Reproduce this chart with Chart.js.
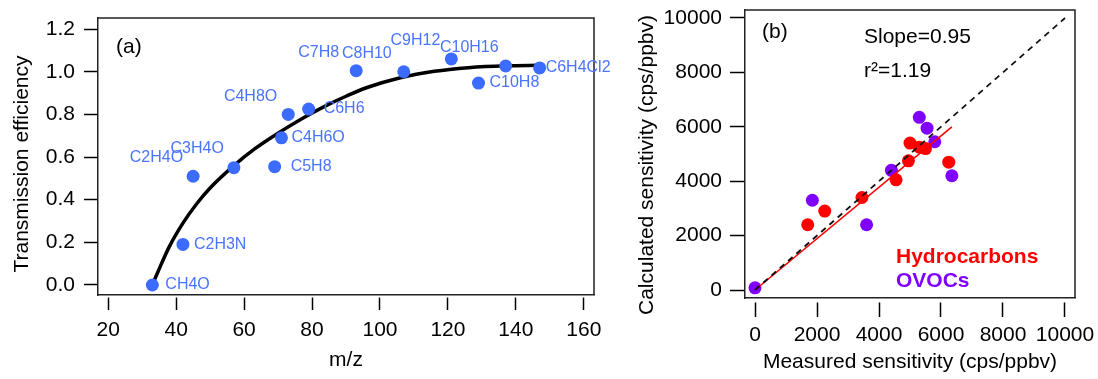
<!DOCTYPE html>
<html><head><meta charset="utf-8">
<script src="https://cdn.jsdelivr.net/npm/chart.js@4.4.1/dist/chart.umd.min.js"></script>
<style>
html,body{margin:0;padding:0;background:#fff;overflow:hidden;width:1098px;height:379px}
#wa{position:absolute;left:0;top:0;width:640px;height:379px}
#wb{position:absolute;left:620px;top:0;width:478px;height:379px}
</style></head><body>
<div id="wa"><canvas id="ca" width="640" height="379"></canvas></div>
<div id="wb"><canvas id="cb" width="478" height="379"></canvas></div>
<script>
// ---------- Panel (a) data ----------
const compounds = ['CH4O','C2H3N','C2H4O','C3H4O','C5H8','C4H6O','C4H8O','C6H6','C7H8','C8H10','C9H12','C10H16','C10H8','C6H4Cl2'];
const mz = [33,42,45,57,69,71,73,79,93,107,121,137,129,147];
const transmission = [0.00,0.19,0.51,0.55,0.555,0.69,0.80,0.825,1.005,1.00,1.06,1.027,0.947,1.018];
const fitMz  = [33,35,38,42,46,50,57,63,70,77,84,90,96,106,116,126,137,147];
const fitEff = [0,0.075,0.18,0.29,0.38,0.455,0.56,0.637,0.712,0.78,0.84,0.885,0.925,0.972,1.002,1.019,1.028,1.03];
const xTicksA = [20,40,60,80,100,120,140,160];
const yTicksA = [0,0.2,0.4,0.6,0.8,1.0,1.2];

// ---------- Panel (b) data ----------
const hcMeasured   = [1700,2250,3450,4550,4950,5000,5300,5500,6250];
const hcCalculated = [2400,2900,3400,4050,4750,5400,5250,5200,4700];
const ovocMeasured   = [0,1850,3600,4400,5300,5550,5800,6350];
const ovocCalculated = [80,3300,2400,4400,6350,5950,5450,4200];
const fitLineX = [0,6350];
const fitLineY = [0,6000];
const oneToOne = [0,10000];
const xTicksB = [0,2000,4000,6000,8000,10000];
const yTicksB = [0,2000,4000,6000,8000,10000];

// ---------- styling ----------
const FAM = "'Liberation Sans', Arial, Helvetica, sans-serif";
Chart.defaults.font.family = FAM;
const BLUE = '#3c6cff', LABEL_BLUE = '#4a74ff', RED = '#ff0000', PURPLE = '#7f00ff';
const tickFont = {family: FAM, size: 21};

// label placement for panel (a): [align, dx, dy] in pixels from the point
const labelPlace = {
  CH4O:['left',13,0], C2H3N:['left',11,0], C2H4O:['right',-10,-19], C3H4O:['right',-10,-19],
  C5H8:['left',16,0], C4H6O:['left',10,0], C4H8O:['right',-11,-18], C6H6:['left',15,0],
  C7H8:['right',-17,-18], C8H10:['right',-12,-18], C9H12:['right',-11,-18], C10H16:['right',-7,-18],
  C10H8:['left',11,0], C6H4Cl2:['left',6,0]
};

const framePlugin = {
  id: 'frame',
  afterDatasetsDraw(chart) {
    const {ctx, chartArea: a} = chart;
    ctx.save();
    ctx.strokeStyle = '#222';
    ctx.lineWidth = 1.5;
    ctx.beginPath();
    ctx.moveTo(a.left, a.top); ctx.lineTo(a.right, a.top); ctx.lineTo(a.right, a.bottom);
    ctx.stroke();
    ctx.restore();
  }
};

function textPlugin(items, yTitle) {
  return {
    id: 'texts',
    afterDraw(chart) {
      const {ctx, chartArea: a} = chart;
      ctx.save();
      ctx.textBaseline = 'middle';
      ctx.textAlign = 'left';
      for (const t of items) {
        ctx.font = t.font;
        ctx.fillStyle = t.color;
        ctx.fillText(t.text, a.left + t.dx, a.top + t.dy);
      }
      // rotated y-axis title
      ctx.translate(yTitle.cx, yTitle.cy);
      ctx.rotate(-Math.PI / 2);
      ctx.textAlign = 'center';
      ctx.font = '21px ' + FAM;
      ctx.fillStyle = '#000';
      ctx.fillText(yTitle.text, 0, 0);
      ctx.restore();
    }
  };
}

const pointLabelPlugin = {
  id: 'pointLabels',
  afterDatasetsDraw(chart) {
    const {ctx} = chart;
    const meta = chart.getDatasetMeta(0);
    ctx.save();
    ctx.font = '16px ' + FAM;
    ctx.fillStyle = LABEL_BLUE;
    ctx.textBaseline = 'middle';
    meta.data.forEach((el, i) => {
      const name = compounds[i];
      const p = labelPlace[name];
      ctx.textAlign = p[0];
      ctx.fillText(name, el.x + p[1], el.y + p[2]);
    });
    ctx.restore();
  }
};

function axisCommon(tickLen, dash) {
  const g = {display: true, drawOnChartArea: false, drawTicks: true, tickLength: tickLen, tickWidth: 1.5, tickColor: '#000'};
  if (dash) g.tickBorderDash = dash;
  return g;
}
function fixSize(prop, val) {
  return s => { s[prop] = val; s.paddingTop = 0; s.paddingBottom = 0; s.paddingLeft = 0; s.paddingRight = 0; };
}

// ---------- Chart (a) ----------
new Chart(document.getElementById('ca'), {
  type: 'scatter',
  data: {
    datasets: [
      {
        label: 'Transmission efficiency',
        data: mz.map((x, i) => ({x, y: transmission[i]})),
        pointBackgroundColor: BLUE, pointBorderWidth: 0, pointRadius: 6.5, pointHoverRadius: 6.5,
        showLine: false
      },
      {
        label: 'Fit',
        data: fitMz.map((x, i) => ({x, y: fitEff[i]})),
        showLine: true, borderColor: '#000', borderWidth: 3.5, pointRadius: 0,
        cubicInterpolationMode: 'monotone', fill: false
      }
    ]
  },
  options: {
    responsive: false, animation: false, devicePixelRatio: 1,
    layout: {padding: {left: 0, right: 46, top: 18, bottom: 0}},
    plugins: {legend: {display: false}, tooltip: {enabled: false}},
    scales: {
      x: {
        type: 'linear', min: 17, max: 163,
        afterFit: fixSize('height', 84),
        afterBuildTicks: s => { s.ticks = xTicksA.map(v => ({value: v})); },
        grid: axisCommon(15, [0, 2, 13, 20]),
        border: {display: true, color: '#222', width: 1.5},
        ticks: {font: tickFont, color: '#000', padding: 8, maxRotation: 0},
        title: {display: true, text: 'm/z', font: tickFont, color: '#000', padding: {top: 0, bottom: 6}}
      },
      y: {
        type: 'linear', min: -0.047, max: 1.252,
        afterFit: fixSize('width', 98),
        afterBuildTicks: s => { s.ticks = yTicksA.map(v => ({value: v})); },
        grid: axisCommon(14),
        border: {display: true, color: '#222', width: 1.5},
        ticks: {font: tickFont, color: '#000', padding: 9, callback: v => Number(v).toFixed(1)},
        title: {display: false, text: 'Transmission efficiency'}
      }
    }
  },
  plugins: [framePlugin, pointLabelPlugin, textPlugin([
    {text: '(a)', dx: 18, dy: 29, font: '21px ' + FAM, color: '#000'}
  ], {text: 'Transmission efficiency', cx: 22, cy: 164})]
});

// ---------- Chart (b) ----------
new Chart(document.getElementById('cb'), {
  type: 'scatter',
  data: {
    datasets: [
      {
        label: '1:1',
        data: oneToOne.map(v => ({x: v, y: v})),
        showLine: true, borderColor: '#111', borderWidth: 1.8, borderDash: [6, 5], pointRadius: 0
      },
      {
        label: 'Fit',
        data: fitLineX.map((x, i) => ({x, y: fitLineY[i]})),
        showLine: true, borderColor: RED, borderWidth: 1.6, pointRadius: 0
      },
      {
        label: 'Hydrocarbons',
        data: hcMeasured.map((x, i) => ({x, y: hcCalculated[i]})),
        pointBackgroundColor: RED, pointBorderWidth: 0, pointRadius: 6.5, pointHoverRadius: 6.5
      },
      {
        label: 'OVOCs',
        data: ovocMeasured.map((x, i) => ({x, y: ovocCalculated[i]})),
        pointBackgroundColor: PURPLE, pointBorderWidth: 0, pointRadius: 6.5, pointHoverRadius: 6.5
      }
    ]
  },
  options: {
    responsive: false, animation: false, devicePixelRatio: 1,
    layout: {padding: {left: 0, right: 23, top: 10, bottom: 0}},
    plugins: {legend: {display: false}, tooltip: {enabled: false}},
    scales: {
      x: {
        type: 'linear', min: -323, max: 10323,
        afterFit: fixSize('height', 81),
        afterBuildTicks: s => { s.ticks = xTicksB.map(v => ({value: v})); },
        grid: axisCommon(19, [0, 4, 15, 20]),
        border: {display: true, color: '#222', width: 1.5},
        ticks: {font: tickFont, color: '#000', padding: 6, maxRotation: 0, callback: v => String(v)},
        title: {display: true, text: 'Measured sensitivity (cps/ppbv)', font: tickFont, color: '#000', padding: {top: 0, bottom: 4}}
      },
      y: {
        type: 'linear', min: -294, max: 10294,
        afterFit: fixSize('width', 125),
        afterBuildTicks: s => { s.ticks = yTicksB.map(v => ({value: v})); },
        grid: axisCommon(15),
        border: {display: true, color: '#222', width: 1.5},
        ticks: {font: tickFont, color: '#000', padding: 8, callback: v => String(v)},
        title: {display: false, text: 'Calculated sensitivity (cps/ppbv)'}
      }
    }
  },
  plugins: [framePlugin, textPlugin([
    {text: '(b)', dx: 17, dy: 22, font: '21px ' + FAM, color: '#000'},
    {text: 'Slope=0.95', dx: 119, dy: 27, font: '21px ' + FAM, color: '#000'},
    {text: 'r\u00B2=1.19', dx: 119, dy: 61, font: '21px ' + FAM, color: '#000'},
    {text: 'Hydrocarbons', dx: 151, dy: 247, font: 'bold 21px ' + FAM, color: RED},
    {text: 'OVOCs', dx: 151, dy: 271, font: 'bold 21px ' + FAM, color: PURPLE}
  ], {text: 'Calculated sensitivity (cps/ppbv)', cx: 27.5, cy: 165})]
});
</script>
</body></html>
